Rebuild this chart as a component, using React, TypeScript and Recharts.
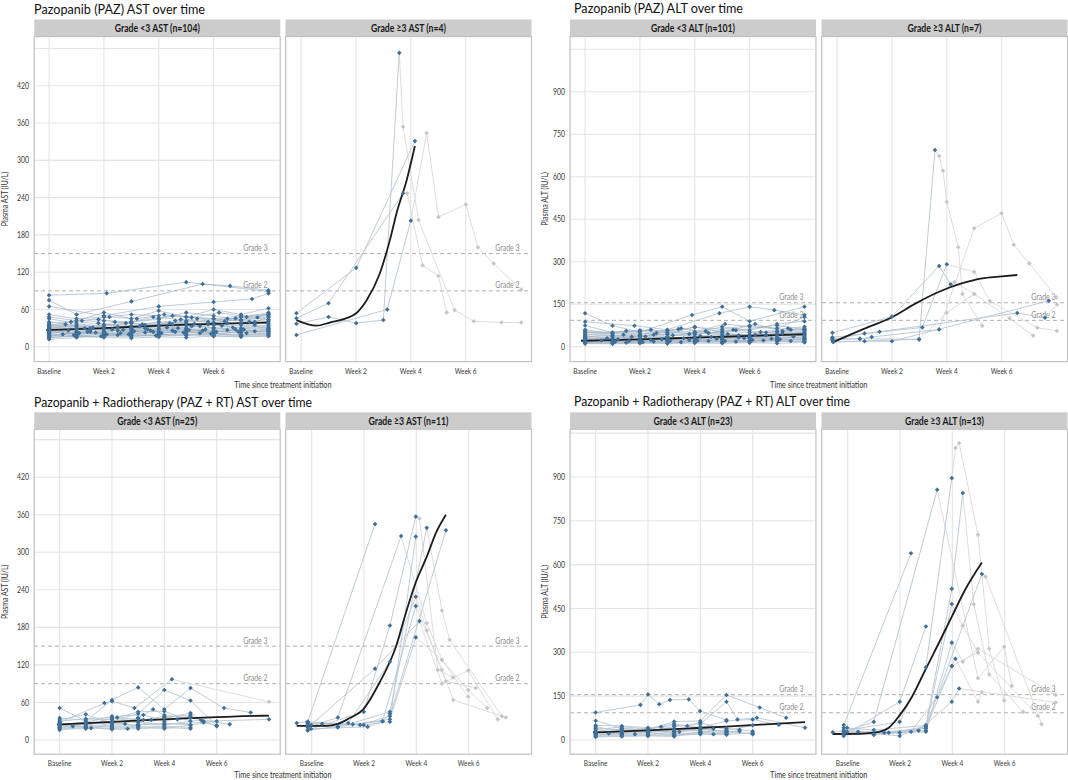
import React from 'react';
import { LineChart, Line, XAxis, YAxis, CartesianGrid, ReferenceLine } from 'recharts';

type Pt = [number, number];
type Patient = { on: Pt[]; off?: Pt[] };

// ---------- axes ----------
const weekTicks = [0, 2, 4, 6];
const weekLabels: Record<number, string> = { 0: 'Baseline', 2: 'Week 2', 4: 'Week 4', 6: 'Week 6' };
const astTicks = [0, 60, 120, 180, 240, 300, 360, 420, 480];
const astLabelled = [0, 60, 120, 180, 240, 300, 360, 420];
const altTicks = [0, 150, 300, 450, 600, 750, 900, 1050];
const altLabelled = [0, 150, 300, 450, 600, 750, 900];
const astGrades = [{ label: 'Grade 3', value: 150 }, { label: 'Grade 2', value: 90 }];
const altGrades = [{ label: 'Grade 3', value: 155 }, { label: 'Grade 2', value: 93 }];

// ---------- PAZ AST, grade <3 (n=104), representative subset ----------
const pazAstLow: Patient[] = [
  { on: [[0, 83], [2.1, 86], [5.0, 104], [8.0, 89]] },
  { on: [[0, 75], [1, 52], [3, 73], [5.6, 101], [6.6, 98], [8, 91]] },
  { on: [[0, 65], [2, 50], [4, 65], [6, 72], [7.4, 77], [8, 86]] },
  { on: [[0, 52], [1, 45], [2, 48], [3, 52], [4, 50], [5, 48], [6, 45], [7, 50], [8, 52]] },
  { on: [[0, 45], [1, 38], [2, 42], [3, 40], [4, 46], [5, 55], [6, 50], [7, 42], [8, 48]] },
  { on: [[0, 40], [1, 35], [2, 33], [3, 38], [4, 36], [5, 42], [6, 39], [7, 44], [8, 40]] },
  { on: [[0, 35], [1, 30], [2, 36], [3, 34], [4, 40], [5, 38], [6, 35], [7, 38], [8, 44]] },
  { on: [[0, 32], [1, 28], [2, 30], [3, 27], [4, 33], [5, 30], [6, 36], [7, 30], [8, 34]] },
  { on: [[0, 30], [1, 33], [2, 25], [3, 30], [4, 28], [5, 34], [6, 31], [7, 35], [8, 30]] },
  { on: [[0, 28], [1, 25], [2, 28], [3, 24], [4, 30], [5, 27], [6, 29], [7, 26], [8, 28]] },
  { on: [[0, 26], [1, 22], [2, 24], [3, 28], [4, 25], [5, 28], [6, 24], [7, 27], [8, 24]] },
  { on: [[0, 24], [1, 20], [2, 22], [3, 21], [4, 24], [5, 22], [6, 26], [7, 23], [8, 25]] },
  { on: [[0, 22], [1, 24], [2, 20], [3, 23], [4, 21], [5, 25], [6, 22], [7, 20], [8, 22]] },
  { on: [[0, 20], [1, 18], [2, 21], [3, 18], [4, 20], [5, 19], [6, 21], [7, 18], [8, 20]] },
  { on: [[0, 18], [1, 16], [2, 17], [3, 19], [4, 17], [5, 20], [6, 18], [7, 17], [8, 18]] },
  { on: [[0, 15], [1, 17], [2, 15], [3, 14], [4, 16], [5, 15], [6, 17], [7, 16], [8, 17]] },
  { on: [[0, 12], [1, 15], [2, 18], [3, 16], [4, 19], [5, 18], [6, 20], [7, 19], [8, 21]] },
  { on: [[0, 38], [1.2, 42], [2.2, 48], [3.2, 45], [4.2, 52], [5.2, 47], [6.2, 55], [7.2, 48], [8, 55]] },
  { on: [[0, 34], [0.8, 40], [1.8, 44], [2.8, 38], [3.8, 48], [4.8, 44], [5.8, 40], [6.8, 46], [8, 50]] },
  { on: [[0, 29], [1.5, 27], [2.5, 32], [3.5, 30], [4.5, 36], [5.5, 33], [6.5, 38], [7.5, 35], [8, 42]] },
  { on: [[0, 25], [1.3, 30], [2.3, 28], [3.3, 33], [4.3, 31], [5.3, 37], [6.3, 34], [7.3, 40], [8, 38]] },
  { on: [[0, 21], [0.7, 26], [1.7, 23], [2.7, 27], [3.7, 26], [4.7, 30], [5.7, 28], [6.7, 31], [8, 35]] },
  { on: [[0, 17], [1.1, 22], [2.1, 20], [3.1, 25], [4.1, 22], [5.1, 27], [6.1, 24], [7.1, 28], [8, 30]] },
  { on: [[0, 14], [0.9, 19], [1.9, 17], [2.9, 20], [3.9, 18], [4.9, 23], [5.9, 21], [6.9, 24], [8, 26]] },
  { on: [[0, 48], [1, 42], [2, 55], [3, 45], [4, 58], [5, 48], [6, 60], [7, 52], [8, 62]] },
  { on: [[0, 36], [1.5, 30], [3, 40], [4, 44], [4.5, 50], [6, 45], [7.5, 40], [8, 48]] },
  { on: [[0, 27], [2, 30], [3.5, 35], [5, 40], [6.5, 45], [8, 52]] },
  { on: [[0, 23], [1, 30], [2.5, 26], [3.8, 24], [5.2, 33], [6.8, 28], [8, 32]] },
  { on: [[0, 31], [1.8, 38], [3, 30], [4.4, 38], [5.8, 36], [7, 48], [8, 44]] },
  { on: [[0, 19], [1.4, 24], [2.6, 22], [3.6, 28], [4.6, 24], [5.6, 26], [7.2, 22], [8, 24]] },
  { on: [[0, 33], [0.6, 36], [1.6, 31], [2.4, 40], [3.4, 36], [4.6, 42], [5.4, 45], [6.4, 41], [7.6, 47], [8, 53]] },
  { on: [[0, 16], [0.5, 20], [1.5, 24], [2.5, 19], [3.5, 23], [4.5, 26], [5.5, 22], [6.5, 27], [7.5, 25], [8, 28]] },
];
const pazAstLowSmooth: Pt[] = [[-0.1, 27], [1, 28.5], [2, 30], [3, 32], [4, 34], [5, 35.5], [6, 37], [7, 38], [8, 39]];

// ---------- PAZ AST, grade >=3 (n=4) ----------
const pazAstHigh: Patient[] = [
  { on: [[-0.17, 54], [2.01, 127], [4.15, 331]] },
  { on: [[-0.17, 46], [1.0, 70], [3.72, 247]], off: [[3.87, 247], [4.43, 131], [5.01, 114], [5.31, 55]] },
  { on: [[-0.17, 19], [3.14, 60], [4.0, 203]], off: [[4.58, 344], [5.01, 209], [6.01, 229], [6.45, 160], [7.02, 134], [8.03, 92]] },
  { on: [[-0.17, 37], [1.0, 48], [2.01, 38], [3.0, 43], [3.58, 473]], off: [[3.72, 354], [4.28, 204], [5.6, 59], [6.3, 41], [7.31, 39], [8.03, 39]] },
];
const pazAstHighSmooth: Pt[] = [[-0.17, 43], [0.56, 34], [1.05, 39], [1.66, 46], [2.01, 54], [2.39, 75], [2.87, 118], [3.24, 172], [3.48, 215], [3.85, 268], [4.15, 323]];

// ---------- PAZ ALT, grade <3 (n=101), representative subset ----------
const pazAltLow: Patient[] = [
  { on: [[0, 118], [1, 74], [2, 52], [3.9, 112], [5, 141], [6, 90], [8, 141]] },
  { on: [[0, 88], [1.8, 74], [3, 60], [4.9, 118], [6, 141], [6.9, 129], [8, 112]] },
  { on: [[0, 75], [1, 50], [2, 45], [3, 58], [4, 68], [5, 62], [6, 75], [7, 65], [8, 105]] },
  { on: [[0, 60], [1, 45], [2, 55], [3, 50], [4, 48], [5, 70], [6, 58], [7, 80], [8, 90]] },
  { on: [[0, 52], [1, 40], [2, 38], [3, 45], [4, 42], [5, 55], [6, 50], [7, 52], [8, 62]] },
  { on: [[0, 45], [1, 35], [2, 40], [3, 36], [4, 50], [5, 45], [6, 42], [7, 55], [8, 50]] },
  { on: [[0, 38], [1, 30], [2, 34], [3, 30], [4, 35], [5, 40], [6, 38], [7, 45], [8, 48]] },
  { on: [[0, 32], [1, 28], [2, 30], [3, 33], [4, 30], [5, 35], [6, 32], [7, 38], [8, 40]] },
  { on: [[0, 28], [1, 24], [2, 26], [3, 28], [4, 26], [5, 30], [6, 34], [7, 30], [8, 35]] },
  { on: [[0, 24], [1, 20], [2, 22], [3, 24], [4, 28], [5, 25], [6, 28], [7, 32], [8, 30]] },
  { on: [[0, 20], [1, 18], [2, 20], [3, 22], [4, 20], [5, 24], [6, 22], [7, 26], [8, 28]] },
  { on: [[0, 17], [1, 15], [2, 18], [3, 17], [4, 19], [5, 20], [6, 18], [7, 22], [8, 24]] },
  { on: [[0, 14], [1, 12], [2, 15], [3, 14], [4, 16], [5, 15], [6, 17], [7, 18], [8, 20]] },
  { on: [[0, 11], [1, 10], [2, 12], [3, 11], [4, 13], [5, 12], [6, 14], [7, 12], [8, 15]] },
  { on: [[0, 35], [1.4, 42], [2.6, 48], [3.4, 62], [4.4, 55], [5.4, 60], [6.4, 52], [7.4, 65], [8, 70]] },
  { on: [[0, 27], [0.8, 30], [2.2, 36], [3.2, 40], [4.2, 38], [5.2, 45], [6.2, 42], [7.2, 48], [8, 55]] },
  { on: [[0, 22], [1.2, 26], [2.4, 24], [3.6, 30], [4.6, 34], [5.6, 32], [6.6, 40], [7.6, 36], [8, 42]] },
  { on: [[0, 18], [0.6, 22], [1.6, 20], [2.8, 26], [3.8, 24], [4.8, 28], [5.8, 30], [6.8, 28], [8, 34]] },
  { on: [[0, 15], [1.1, 18], [2.1, 16], [3.1, 20], [4.1, 22], [5.1, 20], [6.1, 24], [7.1, 26], [8, 25]] },
  { on: [[0, 40], [1.5, 55], [2.5, 42], [3.5, 65], [4.5, 48], [5.5, 58], [7, 75], [8, 60]] },
  { on: [[0, 30], [1.7, 35], [3, 45], [4, 70], [5.6, 40], [6.6, 50], [8, 45]] },
  { on: [[0, 48], [2, 58], [4, 52], [5.1, 80], [6, 70], [7.5, 60], [8, 58]] },
  { on: [[0, 12], [1.5, 14], [2.5, 18], [3.5, 16], [4.5, 20], [5.5, 18], [6.5, 22], [7.5, 20], [8, 18]] },
  { on: [[0, 55], [1, 48], [2.4, 60], [3.8, 45], [5, 50], [6.2, 80], [7.2, 55], [8, 65]] },
];
const pazAltLowSmooth: Pt[] = [[-0.15, 21], [1, 23], [2, 26], [3, 29], [4, 32], [5, 35], [6, 38], [7, 41], [8, 44]];

// ---------- PAZ ALT, grade >=3 (n=7) ----------
const pazAltHigh: Patient[] = [
  { on: [[-0.14, 17], [2.99, 26], [3.57, 694]], off: [[3.72, 673], [3.86, 621], [4.0, 511], [4.42, 351], [4.57, 186], [5.29, 74]] },
  { on: [[-0.17, 49], [2.0, 106], [3.72, 285], [4.14, 220]], off: [[4.28, 228], [5.0, 186], [6.29, 100], [7.15, 39]] },
  { on: [[-0.17, 33], [3.11, 68], [4.0, 291]], off: [[5.0, 264], [5.57, 161], [7.3, 67], [8.02, 56]] },
  { on: [[-0.17, 24], [0.83, 28], [1.26, 34], [3.72, 61]], off: [[5.0, 418], [6.0, 471], [6.44, 360], [7.01, 294], [7.99, 174]] },
  { on: [[-0.17, 24], [1.0, 47], [1.55, 53], [6.57, 119], [7.58, 102]], off: [[8.02, 149]] },
  { on: [[-0.14, 17], [1.0, 19], [2.0, 19], [7.72, 162]] },
  { on: [[-0.17, 30], [0.83, 28], [2.99, 26]], off: [[4.0, 120], [5.0, 186]] },
];
const pazAltHighSmooth: Pt[] = [[-0.17, 15], [0.93, 61], [2.0, 104], [2.87, 153], [3.72, 194], [4.57, 224], [5.29, 241], [5.9, 247], [6.57, 253]];

// ---------- PAZ+RT AST, grade <3 (n=25) ----------
const rtAstLow: Patient[] = [
  { on: [[0, 51], [1, 30], [2, 64], [3, 84], [4, 49], [5, 83], [6.28, 51], [7.3, 44]] },
  { on: [[0, 28], [1.71, 59], [2, 62], [2.86, 51], [4.29, 97]], off: [[8, 61]] },
  { on: [[0, 22], [1, 25], [2, 30], [3, 42], [4, 80], [5, 63], [6, 23]] },
  { on: [[0, 20], [1, 22], [2, 35], [3, 30], [4, 35], [5, 43], [5.5, 30], [8, 33]] },
  { on: [[0, 32], [1, 41], [2, 25], [3, 35], [3.57, 49], [4, 40], [5, 35], [6.5, 25]] },
  { on: [[0, 18], [1, 18], [2, 22], [3, 20], [4, 22], [5, 20]] },
  { on: [[0, 25], [1, 28], [2, 38], [3.2, 40], [4, 30], [5, 38], [6, 22]] },
  { on: [[0, 16], [1, 20], [2, 18], [3, 22], [4, 18], [5, 24]] },
  { on: [[0, 35], [1, 32], [2, 33], [3, 45], [4, 46], [5, 30]] },
  { on: [[0, 24], [0.5, 22], [1.2, 19], [2, 28], [2.5, 26], [3, 35], [3.5, 32]] },
  { on: [[0, 20], [1, 26], [2, 26], [3, 24], [4, 27], [5, 24], [6, 30]] },
  { on: [[0, 27], [1, 20], [2, 17], [3, 18], [4, 20], [5, 18]] },
  { on: [[0, 30], [1, 34], [2.2, 36], [3.2, 32], [4, 38], [4.5, 33]] },
  { on: [[0, 23], [1, 24], [2, 20], [2.6, 18], [3, 25], [4, 24], [5.4, 32]] },
  { on: [[0, 19], [1, 21], [2, 24], [3, 23], [4, 36], [5, 40]] },
  { on: [[0, 26], [1, 25], [2, 30], [3, 28], [4, 25], [5.5, 28], [6, 23]] },
];
const rtAstLowSmooth: Pt[] = [[-0.1, 24.5], [1, 27], [2, 29], [3, 31], [4, 33], [5, 35], [6, 36.5], [7, 38], [8, 39]];

// ---------- PAZ+RT AST, grade >=3 (n=11) ----------
const rtAstHigh: Patient[] = [
  { on: [[-0.57, 27], [-0.15, 29], [2.42, 345]] },
  { on: [[-0.15, 20], [1.0, 36], [3.42, 326]], off: [[4.4, 187], [4.98, 128], [5.98, 80], [6.71, 51]] },
  { on: [[-0.15, 16], [1.99, 45], [2.99, 183], [3.98, 357]], off: [[4.12, 354], [4.82, 112], [5.41, 100]] },
  { on: [[-0.02, 24], [2.42, 114], [4.12, 190]], off: [[4.98, 90], [5.98, 111], [7.11, 33]] },
  { on: [[-0.15, 26], [1.4, 27], [2.99, 125], [3.98, 229]], off: [[4.4, 175], [5.13, 94], [6.27, 83]] },
  { on: [[-0.15, 24], [1.0, 20], [2.99, 45], [4.4, 339]], off: [[4.98, 207], [5.27, 160], [7.27, 38]] },
  { on: [[-0.15, 29], [1.85, 24], [2.99, 38], [5.13, 335]] },
  { on: [[-0.02, 18], [2.14, 21], [2.71, 30], [3.98, 214]], off: [[4.98, 112], [5.41, 64], [7.42, 36]] },
  { on: [[-0.15, 23], [1.57, 25], [2.99, 33], [3.98, 164]], off: [[4.98, 128], [5.98, 69]] },
  { on: [[-0.15, 28], [0.4, 26], [1.99, 24], [2.99, 29], [3.98, 325]] },
  { on: [[-0.15, 15], [1.0, 22], [2.71, 30], [2.99, 42]] },
];
const rtAstHighSmooth: Pt[] = [[-0.57, 22.4], [0.55, 22.4], [1.0, 25.6], [1.44, 34.7], [1.95, 48], [2.58, 90.7], [3.22, 149], [3.6, 203], [3.98, 252], [4.4, 293], [4.75, 331], [5.13, 360]];

// ---------- PAZ+RT ALT, grade <3 (n=23) ----------
const rtAltLow: Patient[] = [
  { on: [[0, 94], [1.71, 120], [2, 156], [2.43, 122], [2.84, 137], [3.56, 139], [3.99, 99], [5, 68]] },
  { on: [[0, 66], [1, 40], [2, 35], [3, 63], [4, 65], [5, 154], [6.27, 111], [7.28, 76]] },
  { on: [[0, 30], [1, 38], [2, 32], [3, 45], [4, 55], [5, 131], [5.42, 70], [6.16, 76], [8, 42]] },
  { on: [[0, 45], [1, 30], [2, 40], [3, 55], [4, 42], [5, 65], [6, 70], [7, 52]] },
  { on: [[0, 20], [1, 25], [2, 28], [3, 30], [4, 35], [5, 30], [6, 20]] },
  { on: [[0, 15], [1, 18], [2, 15], [3, 20], [4, 25], [5, 22]] },
  { on: [[0, 25], [1, 22], [2, 30], [3, 25], [4, 40], [5, 28], [5.5, 30]] },
  { on: [[0, 35], [1, 45], [2, 38], [3, 50], [3.5, 48], [4, 60], [5, 35]] },
  { on: [[0, 12], [1, 15], [2, 18], [3, 15], [4, 20], [5, 18], [6, 25]] },
  { on: [[0, 28], [0.5, 22], [1.5, 20], [2, 25], [3, 18], [4, 22], [4.5, 20]] },
  { on: [[0, 18], [1, 20], [2, 35], [2.5, 45], [3, 30], [4, 45], [5, 40], [6, 30]] },
  { on: [[0, 40], [1, 35], [2, 25], [3, 35], [4, 30], [5, 25], [6, 22]] },
  { on: [[0, 22], [1, 28], [2, 20], [3.2, 28], [4, 35], [4.5, 38]] },
  { on: [[0, 10], [1, 12], [2, 14], [3, 12], [4, 28], [5, 32], [6, 50]] },
  { on: [[0, 50], [1, 48], [2, 42], [3, 20], [4, 25], [5, 20], [5.5, 35]] },
];
const rtAltLowSmooth: Pt[] = [[-0.1, 26], [1, 29.5], [2, 33], [3, 37], [4, 41.5], [5, 46], [6, 51], [7, 56], [8, 61]];

// ---------- PAZ+RT ALT, grade >=3 (n=13) ----------
const rtAltHigh: Patient[] = [
  { on: [[-0.15, 51], [2.42, 639]] },
  { on: [[-0.15, 28], [1.0, 62], [3.42, 856]], off: [[4.98, 211], [5.98, 319], [6.27, 185]] },
  { on: [[-0.15, 14], [1.99, 131], [2.99, 388]] },
  { on: [[-0.57, 26], [1.99, 62], [2.99, 249], [3.98, 896]], off: [[4.12, 999], [4.26, 1016], [4.98, 702], [5.41, 312], [5.98, 135]] },
  { on: [[-0.15, 42], [1.0, 34], [2.99, 50], [3.98, 517], [4.4, 845]], off: [[4.82, 464], [5.41, 224], [6.71, 96]] },
  { on: [[-0.02, 28], [1.4, 25], [2.99, 40], [3.98, 465]], off: [[4.4, 391], [4.98, 299], [7.27, 82]] },
  { on: [[-0.15, 25], [1.57, 25], [2.99, 32], [3.98, 333]], off: [[4.4, 268], [4.98, 312], [7.95, 154]] },
  { on: [[-0.15, 20], [2.42, 28], [3.42, 146], [3.98, 253], [4.12, 278]], off: [[4.98, 131], [5.13, 163]] },
  { on: [[-0.15, 34], [0.4, 28], [2.71, 32], [3.98, 131], [4.26, 176]], off: [[7.95, 128]] },
  { on: [[-0.02, 42], [1.0, 17], [2.99, 45], [5.13, 568]], off: [[5.27, 559], [7.41, 54]] },
  { on: [[-0.15, 17], [1.99, 25], [2.99, 40], [3.98, 253]], off: [[4.98, 299]] },
  { on: [[-0.15, 30], [1.99, 14], [2.99, 50]] },
  { on: [[-0.15, 22], [1.0, 20], [2.99, 28]] },
];
const rtAltHighSmooth: Pt[] = [[-0.57, 20.5], [0.4, 21], [1.0, 25], [1.3, 30], [1.57, 42], [1.95, 80], [2.46, 148], [2.97, 240], [3.48, 331], [3.98, 422], [4.49, 514], [5.13, 607]];

// ---------- rendering ----------
const FONT = 'Lato, "Open Sans", sans-serif';
const SX = 0.79; // horizontal condensing to mimic the narrow original typeface
const BLUE = '#3f6f98';
const GREY_PT = '#c6c6c6';

const toObj = (pts: Pt[]) => pts.map(([w, v]) => ({ w, v }));
const diamond = (cx: number, cy: number, r: number) =>
  `M${cx},${cy - r}L${cx + r},${cy}L${cx},${cy + r}L${cx - r},${cy}Z`;

const makeDot = (fill: string, skipFirst: boolean) => (p: any) => {
  const { cx, cy, index } = p;
  if (cx == null || cy == null || (skipFirst && index === 0)) return <g key={`n${index}`} />;
  return <path key={`d${index}`} d={diamond(cx, cy, 2.3)} fill={fill} />;
};
const blueDot = makeDot(BLUE, false);
const greyDot = makeDot(GREY_PT, true);

function CText(props: { x: number; y: number; size: number; anchor?: string; weight?: number; fill?: string; rotate?: boolean; dy?: string; len?: number; children: any }) {
  if (props.len) {
    return (
      <text x={props.x} y={props.y} fontSize={props.size} fontFamily={FONT} textAnchor={props.anchor ?? 'start'}
        fontWeight={props.weight ?? 400} fill={props.fill ?? '#333'} textLength={props.len} lengthAdjust="spacingAndGlyphs">
        {props.children}
      </text>
    );
  }
  const tf = `translate(${props.x} ${props.y})${props.rotate ? ' rotate(-90)' : ''} scale(${SX} 1)`;
  return (
    <text transform={tf} fontSize={props.size} fontFamily={FONT} textAnchor={props.anchor ?? 'start'}
      fontWeight={props.weight ?? 400} fill={props.fill ?? '#333'} dy={props.dy}>
      {props.children}
    </text>
  );
}

function XTick(props: any) {
  const { x, y, payload } = props;
  return <CText x={x} y={y} size={8.2} anchor="middle" fill="#3a3a3a" dy="0.71em">{weekLabels[payload.value] ?? ''}</CText>;
}

const makeYTick = (labelled: number[]) => (props: any) => {
  const { x, y, payload } = props;
  return <CText x={x} y={y} size={8.8} anchor="end" fill="#3a3a3a" dy="0.355em">{labelled.includes(payload.value) ? String(payload.value) : ''}</CText>;
};

function GradeLabel(props: any) {
  const { viewBox, text } = props;
  if (!viewBox) return null;
  return <CText x={viewBox.x + viewBox.width - 12.5} y={viewBox.y - 2.5} size={8.8} anchor="end" fill="#8e8e8e">{text}</CText>;
}

type FacetProps = {
  left: number; top: number; width: number; height: number; showY: boolean;
  xDomain: [number, number]; yDomain: [number, number]; yTicks: number[]; yLabelled: number[];
  patients: Patient[]; smooth: Pt[]; grades: { label: string; value: number }[]; dense: boolean;
};

function Facet(p: FacetProps) {
  const yW = p.showY ? 40 : 0;
  const xH = 24;
  const onStroke = p.dense ? '#9fb2c4' : '#b9c6d2';
  return (
    <div style={{ position: 'absolute', left: p.left - yW, top: p.top }}>
      <LineChart width={p.width + yW} height={p.height + xH} margin={{ top: 0, right: 0, bottom: 0, left: 0 }}>
        <CartesianGrid stroke="#e4e4e4" strokeWidth={1.1} />
        <XAxis type="number" dataKey="w" domain={p.xDomain} ticks={weekTicks} interval={0} allowDataOverflow
          axisLine={false} tickLine={false} tickSize={0} tickMargin={6.5} height={xH} tick={<XTick />} />
        <YAxis type="number" dataKey="v" domain={p.yDomain} ticks={p.yTicks} interval={0} allowDataOverflow width={yW}
          tick={p.showY ? makeYTick(p.yLabelled) : false}
          axisLine={false} tickLine={false} tickSize={0} tickMargin={5} />
        {p.grades.map((g) => (
          <ReferenceLine key={g.label} y={g.value} stroke="#b0b0b0" strokeDasharray="4 3" strokeWidth={1}
            label={<GradeLabel text={g.label} />} />
        ))}
        {p.patients.filter((pt) => pt.off && pt.off.length).map((pt, i) => (
          <Line key={`off${i}`} data={toObj([pt.on[pt.on.length - 1], ...(pt.off as Pt[])])} dataKey="v" type="linear"
            stroke="#d9d9d9" strokeWidth={0.9} dot={greyDot} activeDot={false} isAnimationActive={false} />
        ))}
        {p.patients.map((pt, i) => (
          <Line key={`on${i}`} data={toObj(pt.on)} dataKey="v" type="linear" stroke={onStroke}
            strokeOpacity={p.dense ? 0.75 : 1} strokeWidth={0.9} dot={blueDot} activeDot={false} isAnimationActive={false} />
        ))}
        <Line data={toObj(p.smooth)} dataKey="v" type="monotone" stroke="#1c1c1c" strokeWidth={1.8} dot={false}
          activeDot={false} isAnimationActive={false} />
      </LineChart>
    </div>
  );
}

const PW = 246;
const PH = 325;
const COLS = [[34.3, 285.5], [570, 821.5]];
const ROWS = [{ strip: 19.5, panel: 36.5 }, { strip: 412.3, panel: 429.3 }];

type Quad = {
  title: string; titleY: number; titleX: number; titleW: number; yTitle: string; yTitleX: number; col: number; row: number;
  xDomain: [number, number]; yDomain: [number, number]; yTicks: number[]; yLabelled: number[];
  grades: { label: string; value: number }[];
  facets: { label: string; patients: Patient[]; smooth: Pt[]; dense: boolean }[];
};

const QUADS: Quad[] = [
  {
    title: 'Pazopanib (PAZ) AST over time', titleX: 34, titleY: 13.5, titleW: 171, yTitle: 'Plasma AST (IU/L)', yTitleX: 7.8, col: 0, row: 0,
    xDomain: [-0.55, 8.42], yDomain: [-24.5, 498.5], yTicks: astTicks, yLabelled: astLabelled, grades: astGrades,
    facets: [
      { label: 'Grade <3 AST (n=104)', patients: pazAstLow, smooth: pazAstLowSmooth, dense: true },
      { label: 'Grade \u22653 AST (n=4)', patients: pazAstHigh, smooth: pazAstHighSmooth, dense: false },
    ],
  },
  {
    title: 'Pazopanib (PAZ) ALT over time', titleX: 574, titleY: 13, titleW: 169, yTitle: 'Plasma ALT (IU/L)', yTitleX: 547.8, col: 1, row: 0,
    xDomain: [-0.55, 8.42], yDomain: [-54, 1093], yTicks: altTicks, yLabelled: altLabelled, grades: altGrades,
    facets: [
      { label: 'Grade <3 ALT (n=101)', patients: pazAltLow, smooth: pazAltLowSmooth, dense: true },
      { label: 'Grade \u22653 ALT (n=7)', patients: pazAltHigh, smooth: pazAltHighSmooth, dense: false },
    ],
  },
  {
    title: 'Pazopanib + Radiotherapy (PAZ + RT) AST over time', titleX: 34, titleY: 406.5, titleW: 278, yTitle: 'Plasma AST (IU/L)', yTitleX: 7.8, col: 0, row: 1,
    xDomain: [-0.98, 8.42], yDomain: [-22.4, 497], yTicks: astTicks, yLabelled: astLabelled, grades: astGrades,
    facets: [
      { label: 'Grade <3 AST (n=25)', patients: rtAstLow, smooth: rtAstLowSmooth, dense: false },
      { label: 'Grade \u22653 AST (n=11)', patients: rtAstHigh, smooth: rtAstHighSmooth, dense: false },
    ],
  },
  {
    title: 'Pazopanib + Radiotherapy (PAZ + RT) ALT over time', titleX: 574, titleY: 406, titleW: 276, yTitle: 'Plasma ALT (IU/L)', yTitleX: 547.8, col: 1, row: 1,
    xDomain: [-0.98, 8.42], yDomain: [-48, 1064], yTicks: altTicks, yLabelled: altLabelled, grades: altGrades,
    facets: [
      { label: 'Grade <3 ALT (n=23)', patients: rtAltLow, smooth: rtAltLowSmooth, dense: false },
      { label: 'Grade \u22653 ALT (n=13)', patients: rtAltHigh, smooth: rtAltHighSmooth, dense: false },
    ],
  },
];

export default function App() {
  return (
    <div style={{ position: 'absolute', left: 0, top: 0, width: 1068, height: 780, background: '#ffffff', overflow: 'hidden' }}>
      {QUADS.map((q, qi) =>
        q.facets.map((f, fi) => (
          <Facet key={`${qi}-${fi}`} left={COLS[q.col][fi]} top={ROWS[q.row].panel} width={PW} height={PH} showY={fi === 0}
            xDomain={q.xDomain} yDomain={q.yDomain} yTicks={q.yTicks} yLabelled={q.yLabelled}
            patients={f.patients} smooth={f.smooth} grades={q.grades} dense={f.dense} />
        ))
      )}
      <svg width={1068} height={780} style={{ position: 'absolute', left: 0, top: 0, pointerEvents: 'none' }}>
        {QUADS.map((q, qi) => {
          const row = ROWS[q.row];
          const c = COLS[q.col];
          const midY = row.panel + PH / 2;
          const xMid = (c[0] + c[1] + PW) / 2;
          const xTitleY = Math.min(row.panel + PH + 26, 778);
          return (
            <g key={`o${qi}`}>
              <CText x={q.titleX} y={q.titleY} size={14.2} fill="#111" len={q.titleW}>{q.title}</CText>
              <CText x={q.yTitleX} y={midY} size={8.8} anchor="middle" rotate>{q.yTitle}</CText>
              <CText x={xMid} y={xTitleY} size={9.2} anchor="middle">Time since treatment initiation</CText>
              {q.facets.map((f, fi) => (
                <g key={`s${fi}`}>
                  <rect x={c[fi]} y={row.strip} width={PW} height={row.panel - row.strip} fill="#cccccc" />
                  <CText x={c[fi] + PW / 2} y={row.strip + 12.4} size={11} weight={700} fill="#1a1a1a" anchor="middle">{f.label}</CText>
                  <rect x={c[fi]} y={row.panel} width={PW} height={PH} fill="none" stroke="#c2c2c2" strokeWidth={1} />
                </g>
              ))}
            </g>
          );
        })}
      </svg>
    </div>
  );
}
